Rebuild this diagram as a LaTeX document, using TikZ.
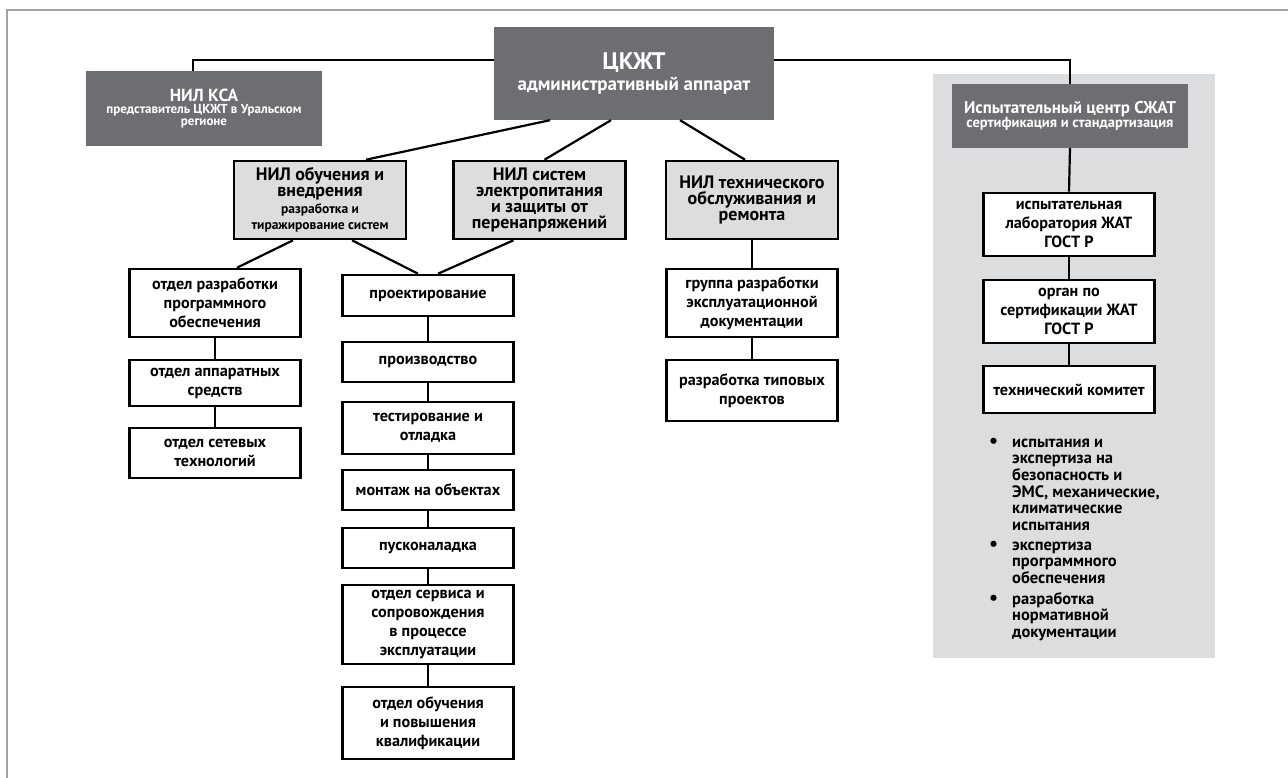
\documentclass[tikz,border=0pt]{standalone}
\usepackage{fontspec}
\setmainfont{PT Sans}
\definecolor{darkbox}{HTML}{6D6E71}
\definecolor{lightbox}{HTML}{DCDDDF}
\definecolor{framegray}{HTML}{A3A3A3}
\newcommand{\fsz}[2]{\fontsize{#1}{#2}\selectfont}
\newcommand{\bigdot}{{\fsz{20}{16}\textbullet}}
\begin{document}
\begin{tikzpicture}[x=1pt,y=-1pt,line join=miter]
	\tikzset{dark/.style={fill=darkbox,text=white,inner sep=0pt,align=center,font=\bfseries},
		nil/.style={draw,line width=2.6pt,fill=lightbox,inner sep=0pt,align=center,
			minimum width=172,minimum height=78,font=\bfseries\fsz{18}{16}},
		unit/.style={draw,line width=2.6pt,fill=white,inner sep=0pt,align=center,
			minimum width=171,font=\bfseries\fsz{16.2}{19}},
		link/.style={line width=2.2pt}
	}
	\useasboundingbox (0,0) rectangle (1288,778);
	\draw[framegray,line width=1.3pt] (7,778)--(7,10)--(1288,10);
	\fill[lightbox] (933,74) rectangle (1215,658);
	\node[dark,minimum width=280,minimum height=93] (ckzht) at (634,73.5)
		{\fsz{24}{24}ЦКЖТ\\[3pt]\fsz{19}{22}административный аппарат};
	\node[dark,minimum width=236,minimum height=75] (ksa) at (204,108.5)
		{\fsz{17.5}{15}НИЛ КСА\\\fsz{13}{14}представитель ЦКЖТ в Уральском\\\fsz{13}{14}регионе};
	\node[dark,minimum width=236,minimum height=64] (icbox) at (1070,116)
		{\fsz{17}{16}Испытательный центр СЖАТ\\\fsz{14.5}{16}сертификация и стандартизация};
	\node[nil] (nilobuch) at (320,200)
		{НИЛ обучения и\\внедрения\\[1pt]\fsz{13.5}{15}разработка и\\\fsz{13.5}{15}тиражирование систем};
	\node[nil] (nilsys) at (539.5,200) {НИЛ систем\\электропитания\\и защиты от\\перенапряжений};
	\node[nil] (niltech) at (752,200) {НИЛ технического\\обслуживания и\\ремонта};
	\node[unit,minimum height=68] (otdpo) at (215,303) {отдел разработки\\программного\\обеспечения};
	\node[unit,minimum height=46] (otdapp) at (215,383) {отдел аппаратных\\средств};
	\node[unit,minimum height=50] (otdset) at (215,453) {отдел сетевых\\технологий};
	\node[unit,minimum height=41] (proekt) at (428,295.5) {проектирование};
	\node[unit,minimum height=40] (proizv) at (428,362) {производство};
	\node[unit,minimum height=52] (test) at (428,428) {тестирование и\\отладка};
	\node[unit,minimum height=40] (montazh) at (428,490) {монтаж на объектах};
	\node[unit,minimum height=40] (pusk) at (428,548) {пусконаладка};
	\node[unit,minimum height=79] (servis) at (428,624.5) {отдел сервиса и\\сопровождения\\в процессе\\эксплуатации};
	\node[unit,minimum height=72] (obuch) at (428,723) {отдел обучения\\и повышения\\квалификации};
	\node[unit,minimum height=68] (gruppa) at (752,303) {группа разработки\\эксплуатационной\\документации};
	\node[unit,minimum height=61] (tipov) at (752,390.5) {разработка типовых\\проектов};
	\node[unit,minimum height=63] (lab) at (1069,224.5) {испытательная\\лаборатория ЖАТ\\ГОСТ Р};
	\node[unit,minimum height=63] (organ) at (1069,311.5) {орган по\\сертификации ЖАТ\\ГОСТ Р};
	\node[unit,minimum height=47] (komitet) at (1069,389.5) {технический комитет};
	\node[inner sep=0pt,anchor=base west,font=\bfseries\fsz{16.5}{16.5}] (claims) at (989,447)
		{\begin{tabular}[t]{@{}p{23pt}@{}l@{}}
			\bigdot & испытания и\\
			& экспертиза на\\
			& безопасность и\\
			& ЭМС, механические,\\
			& климатические\\
			& испытания\\[3.5pt]
			\bigdot & экспертиза\\
			& программного\\
			& обеспечения\\[3.5pt]
			\bigdot & разработка\\
			& нормативной\\
			& документации
		\end{tabular}};
	\draw[link] ([yshift=13.5pt]ckzht.west) -| ([xshift=-11pt]ksa.north);
	\draw[link] ([yshift=13.5pt]ckzht.east) -| (icbox.north);
	\draw[link] ([xshift=-84pt]ckzht.south) -- ([xshift=46pt]nilobuch.north);
	\draw[link] ([xshift=-23pt]ckzht.south) -- ([xshift=5pt]nilsys.north);
	\draw[link] ([xshift=46pt]ckzht.south) -- ([xshift=-7pt]niltech.north);
	\draw[link] ([xshift=-27pt]nilobuch.south) -- ([xshift=22pt]otdpo.north);
	\draw[link] ([xshift=32pt]nilobuch.south) -- ([xshift=-10pt]proekt.north);
	\draw[link] ([xshift=-26pt]nilsys.south) -- ([xshift=10pt]proekt.north);
	\foreach \a/\b in {otdpo/otdapp,otdapp/otdset,proekt/proizv,proizv/test,test/montazh,
		montazh/pusk,pusk/servis,servis/obuch,niltech/gruppa,gruppa/tipov,icbox/lab,lab/organ,organ/komitet}
		\draw[link] (\a.south) -- (\b.north);
\end{tikzpicture}
\end{document}
